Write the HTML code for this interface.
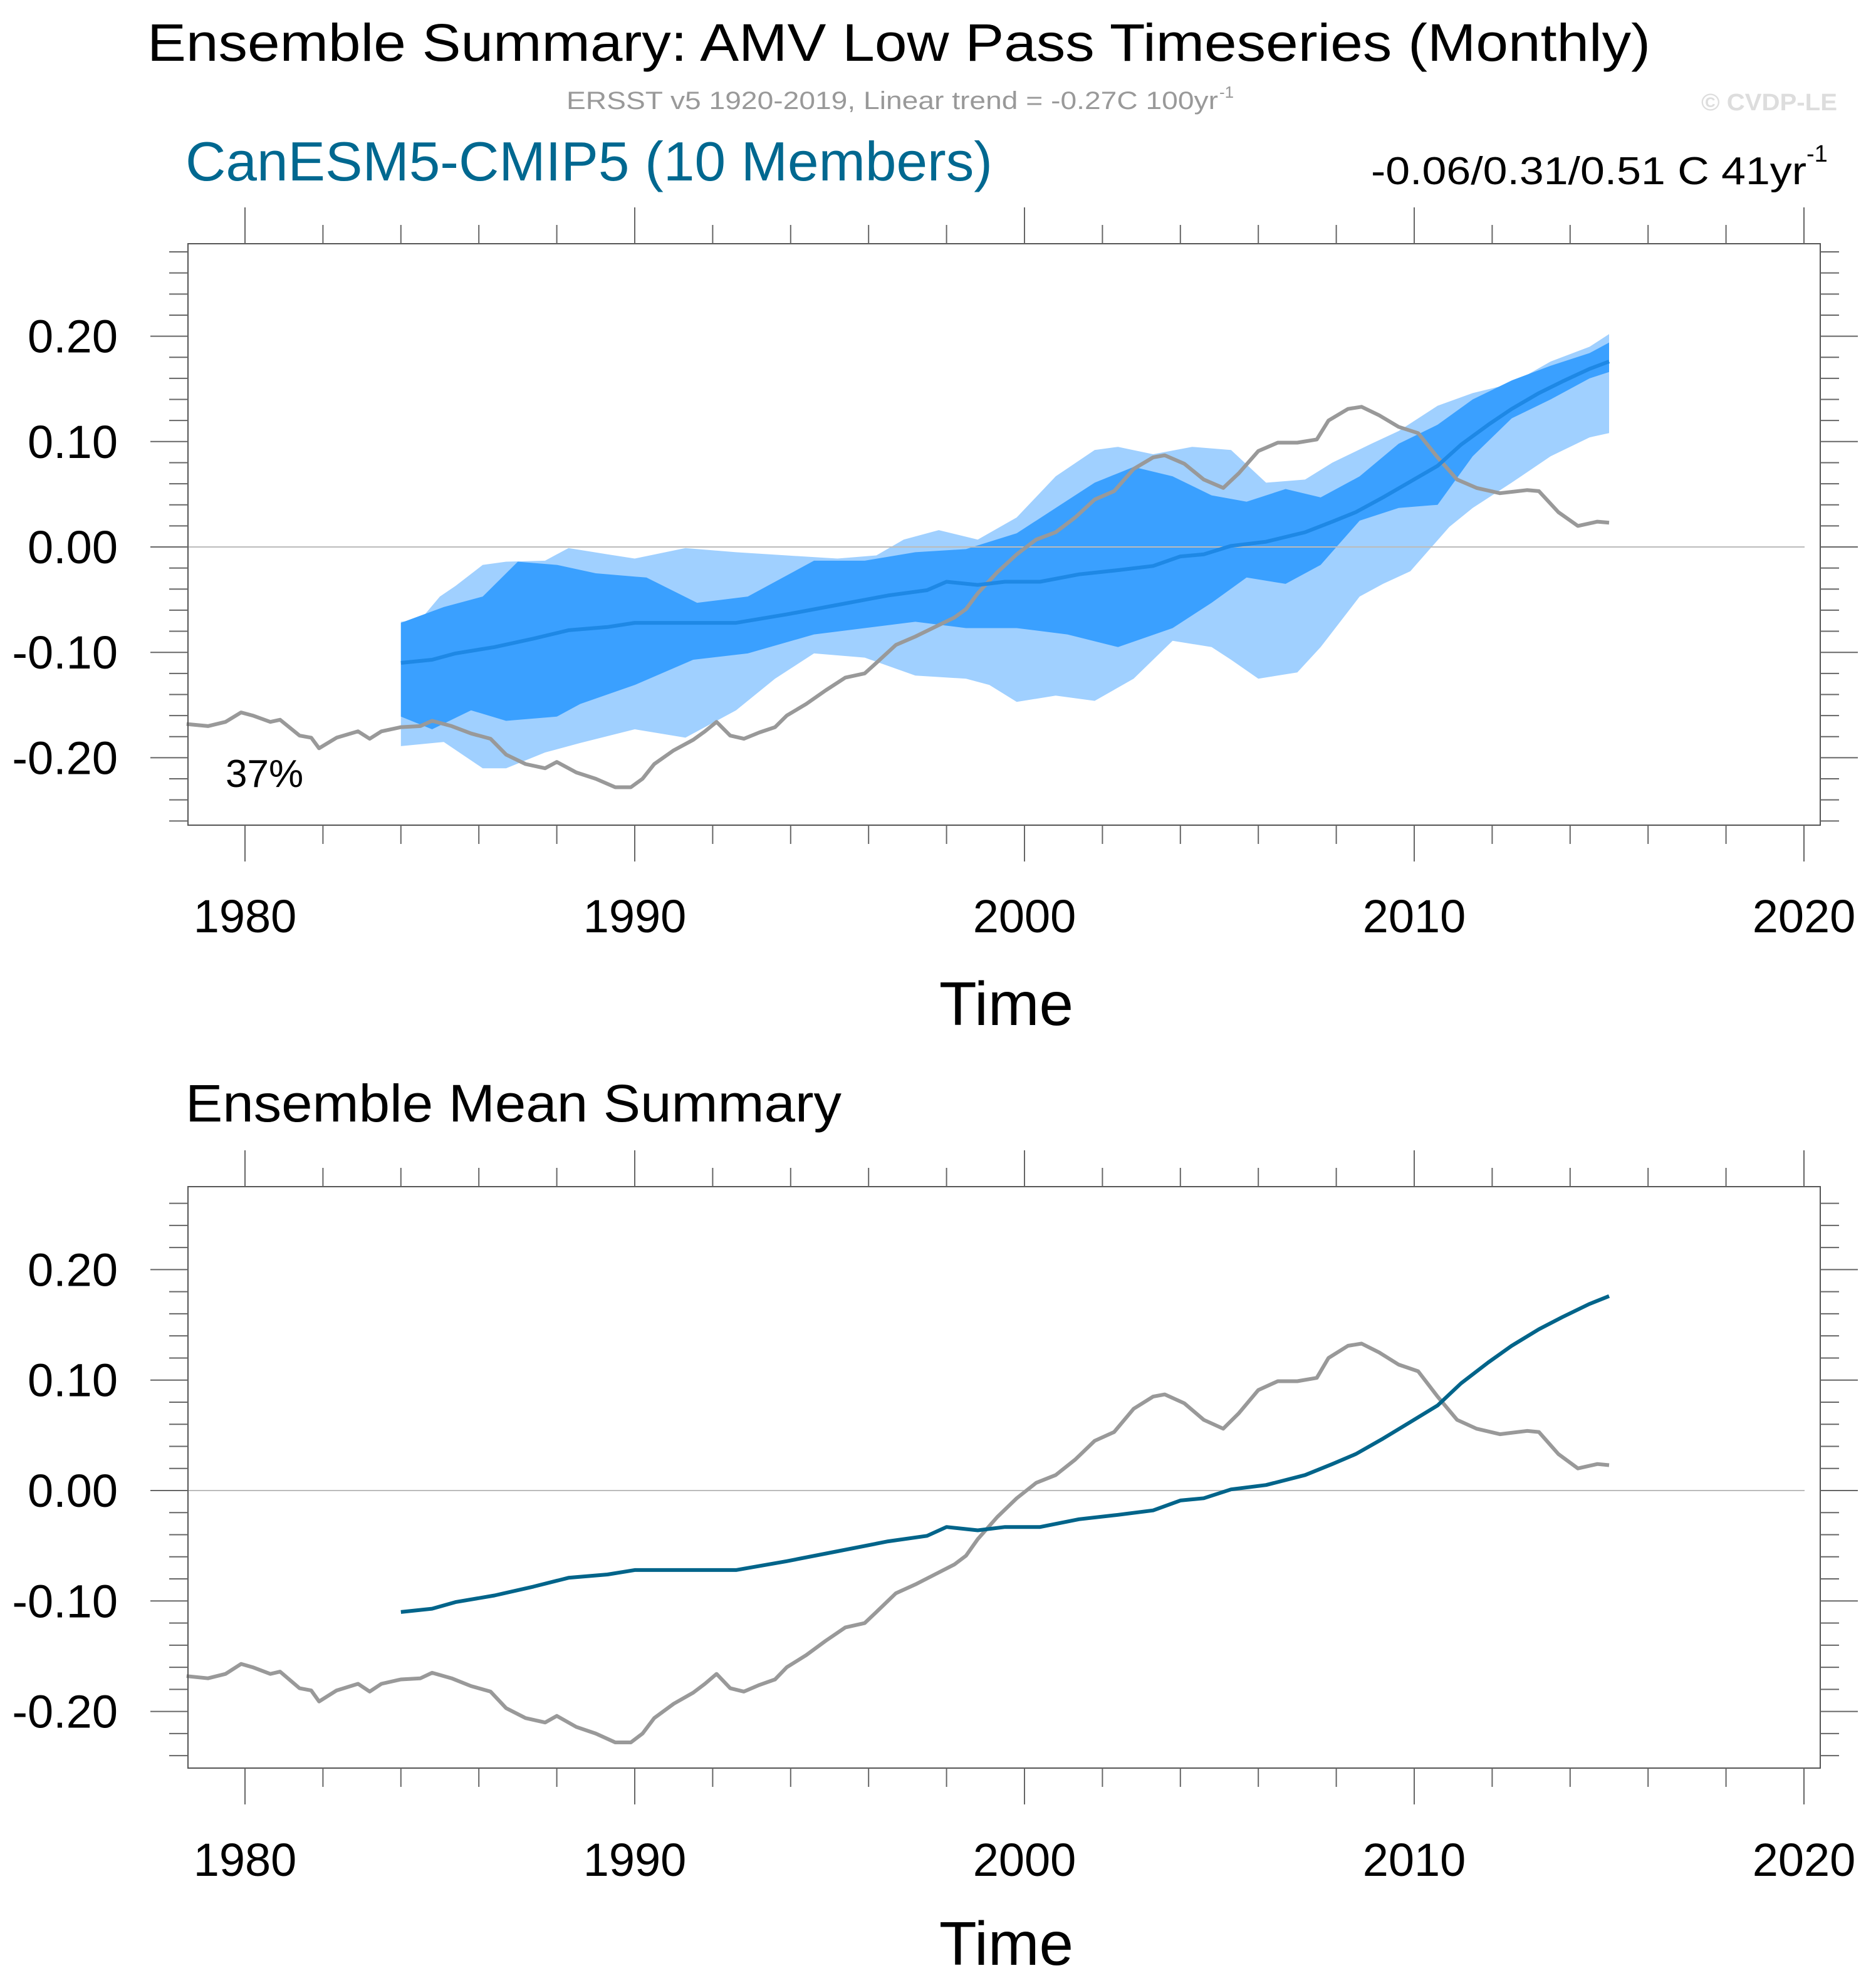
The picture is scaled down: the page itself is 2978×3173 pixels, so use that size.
<!DOCTYPE html>
<html><head><meta charset="utf-8"><style>
html,body{margin:0;padding:0;background:#fff;}
svg{display:block;font-family:"Liberation Sans",Arial,sans-serif;}
</style></head><body>
<svg id="chart" width="2978" height="3173" viewBox="0 0 2978 3173" xmlns="http://www.w3.org/2000/svg">
<text x="235" y="97" font-size="84" textLength="2399" lengthAdjust="spacingAndGlyphs">Ensemble Summary: AMV Low Pass Timeseries (Monthly)</text>
<text x="904" y="174" font-size="40" fill="#999" textLength="1040" lengthAdjust="spacingAndGlyphs">ERSST v5 1920-2019, Linear trend = -0.27C 100yr</text>
<text x="1946" y="156" font-size="26" fill="#999">-1</text>
<text x="2715" y="176" font-size="38" font-weight="bold" fill="#ddd" textLength="217" lengthAdjust="spacingAndGlyphs">© CVDP-LE</text>
<text x="296" y="288" font-size="88" fill="#006890" textLength="1288" lengthAdjust="spacingAndGlyphs">CanESM5-CMIP5 (10 Members)</text>
<text x="2188" y="294" font-size="62" textLength="695" lengthAdjust="spacingAndGlyphs">-0.06/0.31/0.51 C 41yr</text>
<text x="2883" y="258" font-size="38">-1</text>
<text x="296" y="1790" font-size="84" textLength="1047" lengthAdjust="spacingAndGlyphs">Ensemble Mean Summary</text>
<g id="p1"></g>
<g id="p2"></g>
</svg>
<script>
const obsYears=[1978.5,1979.05,1979.5,1979.9,1980.2,1980.65,1980.9,1981.4,1981.7,1981.9,1982.35,1982.9,1983.2,1983.5,1984,1984.5,1984.8,1985.3,1985.8,1986.3,1986.7,1987.2,1987.7,1988.0,1988.5,1989.0,1989.5,1989.9,1990.2,1990.5,1991.0,1991.5,1991.8,1992.1,1992.45,1992.8,1993.2,1993.6,1993.9,1994.4,1994.9,1995.4,1995.9,1996.2,1996.7,1997.2,1997.7,1998.2,1998.5,1998.8,1999.3,1999.8,2000.3,2000.8,2001.3,2001.8,2002.3,2002.8,2003.3,2003.6,2004.1,2004.6,2005.1,2005.5,2006.0,2006.5,2007.0,2007.5,2007.8,2008.3,2008.65,2009.1,2009.6,2010.1,2010.6,2011.1,2011.6,2012.2,2012.9,2013.2,2013.7,2014.2,2014.7,2015.0];
const obsValues=[-0.168,-0.170,-0.166,-0.157,-0.160,-0.166,-0.164,-0.179,-0.181,-0.191,-0.181,-0.175,-0.182,-0.175,-0.171,-0.170,-0.165,-0.170,-0.177,-0.182,-0.197,-0.206,-0.210,-0.204,-0.214,-0.220,-0.228,-0.228,-0.220,-0.206,-0.193,-0.183,-0.175,-0.166,-0.179,-0.182,-0.176,-0.171,-0.160,-0.149,-0.136,-0.124,-0.120,-0.110,-0.093,-0.085,-0.076,-0.067,-0.059,-0.044,-0.024,-0.007,0.007,0.014,0.028,0.045,0.053,0.074,0.085,0.087,0.079,0.064,0.056,0.070,0.091,0.099,0.099,0.102,0.120,0.131,0.133,0.125,0.114,0.108,0.085,0.064,0.056,0.051,0.054,0.053,0.033,0.020,0.024,0.023];
const meanYears=[1984,1984.8,1985.4,1986.4,1987.4,1988.3,1989.3,1990,1991.3,1992.6,1993.9,1995.2,1996.5,1997.5,1998.0,1998.8,1999.5,2000.4,2001.4,2002.4,2003.3,2004.0,2004.6,2005.3,2006.2,2007.2,2007.9,2008.5,2009.2,2009.9,2010.6,2011.2,2011.9,2012.5,2013.2,2013.8,2014.5,2015.0];
const meanValues=[-0.110,-0.107,-0.101,-0.095,-0.087,-0.079,-0.076,-0.072,-0.072,-0.072,-0.064,-0.055,-0.046,-0.041,-0.033,-0.036,-0.033,-0.033,-0.026,-0.022,-0.018,-0.009,-0.007,0.001,0.005,0.014,0.024,0.033,0.047,0.062,0.077,0.097,0.116,0.131,0.146,0.157,0.169,0.176];
const lightMaxYears=[1984,1984.5,1985,1985.4,1986.1,1986.7,1987.7,1988.3,1989.3,1990,1991.3,1992.6,1993.9,1995.2,1996.2,1996.9,1997.8,1998.8,1999.8,2000.8,2001.8,2002.4,2003.3,2004.3,2005.3,2006.2,2007.2,2007.9,2008.9,2009.6,2010.6,2011.5,2012.5,2013.5,2014.5,2015.0];
const lightMaxValues=[-0.071,-0.069,-0.047,-0.037,-0.017,-0.014,-0.013,-0.001,-0.007,-0.011,-0.001,-0.005,-0.008,-0.011,-0.008,0.007,0.016,0.007,0.028,0.067,0.092,0.095,0.088,0.095,0.092,0.061,0.064,0.080,0.098,0.110,0.134,0.146,0.155,0.176,0.190,0.202];
const lightMinYears=[1984,1985.1,1986.1,1986.7,1987.7,1988.6,1990,1991.3,1992.6,1993.6,1994.6,1995.9,1997.2,1998.5,1999.1,1999.8,2000.8,2001.8,2002.8,2003.8,2004.8,2005.3,2006.0,2007.0,2007.6,2008.6,2009.2,2009.9,2010.9,2011.5,2012.5,2013.5,2014.5,2015.0];
const lightMinValues=[-0.189,-0.185,-0.210,-0.210,-0.195,-0.186,-0.173,-0.181,-0.155,-0.125,-0.101,-0.105,-0.122,-0.125,-0.131,-0.147,-0.141,-0.146,-0.125,-0.089,-0.095,-0.107,-0.125,-0.119,-0.095,-0.047,-0.035,-0.023,0.019,0.037,0.061,0.086,0.104,0.108];
const darkMaxYears=[1984,1985.1,1986.1,1987.0,1988.0,1989.0,1990.3,1991.6,1992.9,1994.6,1995.9,1997.2,1998.5,1999.8,2000.8,2001.8,2002.8,2003.8,2004.8,2005.7,2006.7,2007.6,2008.6,2009.6,2010.6,2011.5,2012.5,2013.5,2014.5,2015.0];
const darkMaxValues=[-0.072,-0.057,-0.047,-0.014,-0.017,-0.025,-0.029,-0.053,-0.047,-0.013,-0.013,-0.005,-0.002,0.013,0.037,0.061,0.076,0.067,0.049,0.043,0.055,0.047,0.067,0.098,0.116,0.140,0.158,0.172,0.184,0.194];
const darkMinYears=[1984,1984.8,1985.8,1986.7,1988.0,1988.6,1990,1991.5,1992.9,1994.6,1995.9,1997.2,1998.5,1999.8,2001.1,2002.4,2003.8,2004.8,2005.7,2006.7,2007.6,2008.6,2009.6,2010.6,2011.5,2012.5,2013.5,2014.5,2015.0];
const darkMinValues=[-0.161,-0.173,-0.155,-0.165,-0.161,-0.149,-0.131,-0.107,-0.101,-0.083,-0.077,-0.071,-0.077,-0.077,-0.083,-0.095,-0.077,-0.053,-0.029,-0.035,-0.017,0.025,0.037,0.040,0.086,0.122,0.140,0.160,0.166];
const xTickYears=[1980,1990,2000,2010,2020];
const yTickValues=[0.20,0.10,0.00,-0.10,-0.20];
const yTickLabels=["0.20","0.10","0.00","-0.10","-0.20"];

const NS="http://www.w3.org/2000/svg";
const X0=300,X1=2905;
function xs(yr){return 391+(yr-1980)*62.2;}
function mk(parent,tag,attrs){const e=document.createElementNS(NS,tag);for(const k in attrs)e.setAttribute(k,attrs[k]);parent.appendChild(e);return e;}
function linePath(ys,vs,ysc){return ys.map((y,i)=>(i?'L':'M')+xs(y).toFixed(1)+' '+ysc(vs[i]).toFixed(1)).join(' ');}
function bandPath(uy,uv,ly,lv,ysc){let d=linePath(uy,uv,ysc);for(let i=ly.length-1;i>=0;i--)d+=' L'+xs(ly[i]).toFixed(1)+' '+ysc(lv[i]).toFixed(1);return d+' Z';}

function panel(g,top,bot,zeroY,perTenth,labY,timeY,bands,meanColor){
  const ysc=v=>zeroY-v*perTenth*10;
  if(bands){
    const lb=mk(g,'path',{d:bandPath(lightMaxYears,lightMaxValues,lightMinYears,lightMinValues,ysc),fill:'#a0d0ff'});
    
    
    const db=mk(g,'path',{d:bandPath(darkMaxYears,darkMaxValues,darkMinYears,darkMinValues,ysc),fill:'#3aa0ff'});
    
    
  }
  const z=mk(g,'line',{x1:X0,x2:2880,y1:ysc(0),y2:ysc(0),stroke:'#bbb','stroke-width':2});
  
  
  const ob=mk(g,'path',{d:linePath(obsYears,obsValues,ysc),fill:'none',stroke:'#999','stroke-width':6,'stroke-linejoin':'round'});
  
  
  const mn=mk(g,'path',{d:linePath(meanYears,meanValues,ysc),fill:'none',stroke:meanColor,'stroke-width':6,'stroke-linejoin':'round'});
  
  
  const fr=mk(g,'rect',{x:X0,y:top,width:X1-X0,height:bot-top,fill:'none',stroke:'#555','stroke-width':2});
  
  
  for(let yr=1980;yr<=2020;yr+=2){
    const major=yr%10===0,x=xs(yr);
    const t1=mk(g,'line',{x1:x,x2:x,y1:top,y2:top-(major?58:30),stroke:'#666','stroke-width':2});
    
    
    const t2=mk(g,'line',{x1:x,x2:x,y1:bot,y2:bot+(major?58:30),stroke:'#666','stroke-width':2});
    
    
  }
  xTickYears.forEach(yr=>{
    const t=mk(g,'text',{x:xs(yr),y:labY,'font-size':74,'text-anchor':'middle'});t.textContent=String(yr);
    
    
  });
  for(let k=-30;k<=30;k+=2){
    const v=k/100,y=ysc(v);
    if(y<top-1||y>bot+1)continue;
    const major=k%10===0;
    const l=mk(g,'line',{x1:X0,x2:X0-(major?60:30),y1:y,y2:y,stroke:'#666','stroke-width':2});
    
    
    const r=mk(g,'line',{x1:X1,x2:X1+(major?60:30),y1:y,y2:y,stroke:'#666','stroke-width':2});
    
    
  }
  yTickValues.forEach((v,i)=>{
    const t=mk(g,'text',{x:188,y:ysc(v)+26,'font-size':74,'text-anchor':'end'});t.textContent=yTickLabels[i];
    
    
  });
  const tt=mk(g,'text',{x:1606,y:timeY,'font-size':98,'text-anchor':'middle'});tt.textContent='Time';
  
  
  return ysc;
}
const p1=document.getElementById('p1'),p2=document.getElementById('p2');
panel(p1,389,1317,873,168.2,1488,1636,true,'#1e88e5');
const pc=mk(p1,'text',{x:360,y:1256,'font-size':62});pc.textContent='37%';


panel(p2,1894,2822,2379,176.3,2994,3136,false,'#00648a');
</script>
</body></html>
